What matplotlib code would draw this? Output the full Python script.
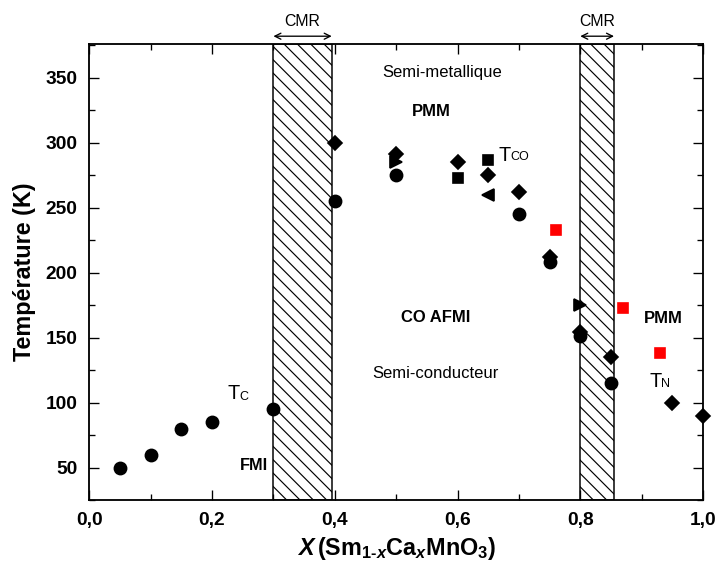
import matplotlib
matplotlib.use("Agg")
import matplotlib.pyplot as plt
from matplotlib.ticker import MultipleLocator, FuncFormatter

# ---- data ----
circle_x = [0.05, 0.10, 0.15, 0.20, 0.30, 0.40, 0.50, 0.70, 0.75, 0.80, 0.85]
circle_y = [50, 60, 80, 85, 95, 255, 275, 245, 208, 151, 115]
diamond_x = [0.40, 0.50, 0.60, 0.65, 0.70, 0.75, 0.80, 0.85, 0.95, 1.00]
diamond_y = [300, 291, 285, 275, 262, 212, 154, 135, 100, 90]
square_x = [0.60, 0.65]
square_y = [273, 287]
tri_right_x = [0.50, 0.80]
tri_right_y = [285, 175]
tri_left_x = [0.65]
tri_left_y = [260]
red_x = [0.76, 0.87, 0.93]
red_y = [233, 173, 138]
cmr_regions = [(0.30, 0.395), (0.80, 0.855)]

plt.rcParams['font.family'] = ['Liberation Sans', 'DejaVu Sans']
plt.rcParams['mathtext.fontset'] = 'custom'
plt.rcParams['mathtext.rm'] = 'Liberation Sans:bold'
plt.rcParams['mathtext.bf'] = 'Liberation Sans:bold'
plt.rcParams['mathtext.it'] = 'Liberation Sans:bold:italic'
plt.rcParams['mathtext.bfit'] = 'Liberation Sans:bold:italic'
plt.rcParams['hatch.linewidth'] = 0.7

DPI = 120
fig = plt.figure(figsize=(716 / DPI, 575 / DPI), dpi=DPI)
ax = fig.add_axes([89.3 / 716, 1 - 500 / 575, (703 - 89.3) / 716, (500 - 44) / 575])

ax.set_xlim(0, 1.0)
ax.set_ylim(25, 376)

for (x0, x1) in cmr_regions:
    ax.axvspan(x0, x1, facecolor='none', edgecolor='black', hatch='\\\\\\',
               lw=0.9, zorder=1)
    ax.annotate('', xy=(x0, 382), xytext=(x1, 382), xycoords='data',
                arrowprops=dict(arrowstyle='<->', lw=0.8, color='black',
                                shrinkA=0, shrinkB=0, mutation_scale=9),
                annotation_clip=False)
    ax.text((x0 + x1) / 2, 393, 'CMR', ha='center', va='center', fontsize=9.5,
            clip_on=False)

ax.plot(circle_x, circle_y, 'o', color='black', ms=7.3, zorder=3, clip_on=False)
ax.plot(diamond_x, diamond_y, 'D', color='black', ms=6.0, zorder=3, clip_on=False)
ax.plot(square_x, square_y, 's', color='black', ms=6.2, zorder=3)
ax.plot(tri_right_x, tri_right_y, '>', color='black', ms=7.0, zorder=3)
ax.plot(tri_left_x, tri_left_y, '<', color='black', ms=7.0, zorder=3)
ax.plot(red_x, red_y, 's', color='red', ms=6.2, zorder=3)

# annotations
ax.text(0.5755, 354, 'Semi-metallique', ha='center', va='center', fontsize=10)
ax.text(0.558, 323.8, 'PMM', ha='center', va='center', fontsize=10, fontweight='bold')
ax.text(0.564, 165.7, 'CO AFMI', ha='center', va='center', fontsize=10, fontweight='bold')
ax.text(0.564, 122.6, 'Semi-conducteur', ha='center', va='center', fontsize=10)
ax.text(0.9357, 164.4, 'PMM', ha='center', va='center', fontsize=10, fontweight='bold')
ax.text(0.2907, 51.5, 'FMI', ha='right', va='center', fontsize=9.8, fontweight='bold')

def t_label(x, y, sub, xs, ys):
    ax.text(x, y, 'T', ha='left', va='center', fontsize=12)
    ax.text(xs, ys, sub, ha='left', va='center', fontsize=7.5)

t_label(0.2255, 106.7, 'C', 0.2445, 104.6)
t_label(0.6665, 290.5, 'CO', 0.6865, 288.8)
t_label(0.9125, 116.0, 'N', 0.9315, 114.0)

# axes styling
for s in ax.spines.values():
    s.set_linewidth(1.1)
ax.xaxis.set_major_locator(MultipleLocator(0.2))
ax.xaxis.set_minor_locator(MultipleLocator(0.1))
ax.yaxis.set_major_locator(MultipleLocator(50))
ax.yaxis.set_minor_locator(MultipleLocator(25))
ax.set_yticks([50, 100, 150, 200, 250, 300, 350])
ax.xaxis.set_major_formatter(FuncFormatter(lambda v, p: f"{v:.1f}".replace('.', ',')))
ax.tick_params(which='both', direction='in', top=True, right=True, width=0.8)
ax.tick_params(which='major', length=6, labelsize=11.5, pad=7)
ax.tick_params(which='minor', length=3.5)
for lab in ax.get_xticklabels() + ax.get_yticklabels():
    lab.set_fontweight('bold')

ax.set_ylabel('Température (K)', fontsize=14, fontweight='bold', labelpad=6)
ax.set_xlabel(r'$\mathit{X}\,\mathrm{(Sm_{1\text{-}\mathit{x}}Ca_{\mathit{x}}MnO_{3})}$',
              fontsize=14, labelpad=4)

fig.savefig('out.png', dpi=DPI)
